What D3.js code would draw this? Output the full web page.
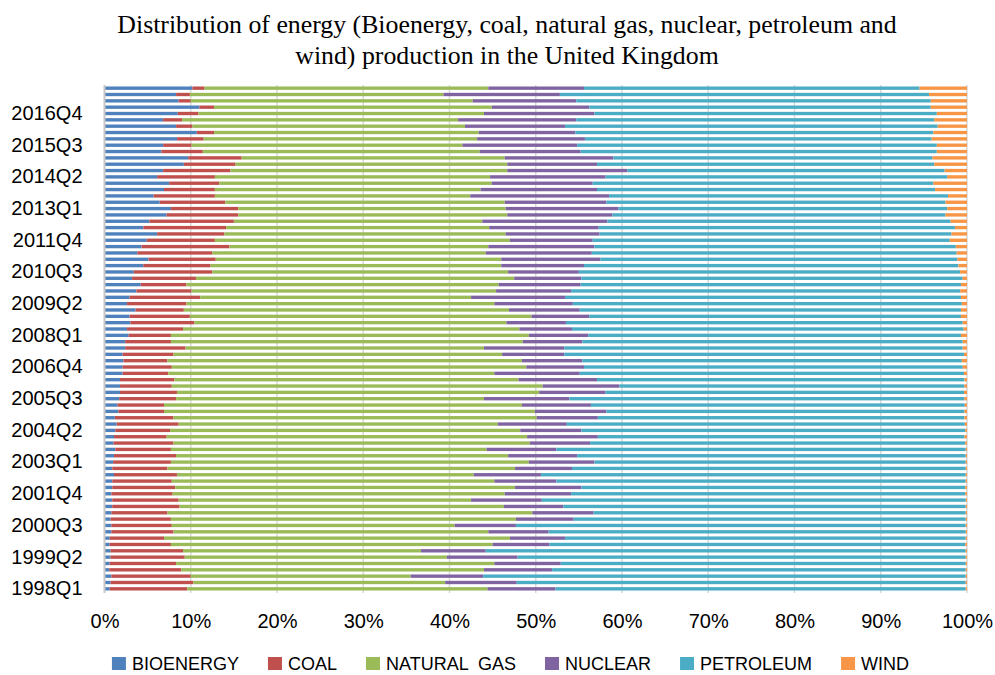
<!DOCTYPE html>
<html>
<head>
<meta charset="utf-8">
<script src="https://cdn.jsdelivr.net/npm/d3@7"></script>
<style>
  body { margin: 0; background: #fff; }
  svg { display: block; }
</style>
</head>
<body>
<script>
  var width = 995,
      height = 675;

  // quarters 1998Q1 .. 2017Q4
  var quarters = [];
  for (var yr = 1998; yr <= 2017; yr++) {
    for (var q = 1; q <= 4; q++) quarters.push(yr + "Q" + q);
  }

  var seriesNames = ["BIOENERGY", "COAL", "NATURAL  GAS", "NUCLEAR", "PETROLEUM", "WIND"];
  var seriesKeys = ["bio", "coal", "gas", "nuclear", "petroleum", "wind"];
  var colors = ["#4F81BD", "#C0504D", "#9BBB59", "#8064A2", "#4BACC6", "#F79646"];

  // shares in %, oldest quarter first
  var bio = [0.6, 0.7, 0.8, 0.55, 0.6, 0.7, 0.7, 0.6, 0.6, 0.8,
             0.8, 0.7, 0.8, 0.9, 0.9, 0.8, 0.9, 0.9, 1.1, 0.9,
             1.0, 1.1, 1.25, 1.05, 1.1, 1.25, 1.4, 1.2, 1.6, 1.5,
             1.7, 1.8, 1.8, 1.8, 2.1, 2.1, 2.2, 2.1, 2.4, 2.4,
             2.8, 2.6, 3.0, 2.9, 3.6, 2.6, 2.9, 3.7, 4.2, 3.2,
             3.4, 4.5, 5.1, 3.8, 4.3, 4.9, 6.1, 4.5, 5.2, 7.2,
             7.7, 6.4, 5.7, 6.9, 7.5, 6.1, 6.8, 9.2, 9.7, 6.6,
             6.8, 8.4, 10.7, 8.3, 6.8, 8.5, 11.0, 8.6, 8.3, 10.2];
  var coal = [9.0, 9.6, 9.2, 8.35, 7.7, 8.6, 8.4, 7.1, 6.3, 7.2,
              7.0, 7.0, 6.5, 7.8, 7.7, 7.1, 7.3, 6.9, 7.3, 6.4,
              6.7, 7.2, 6.45, 6.95, 6.1, 6.35, 7.2, 6.8, 5.3, 5.4,
              6.6, 6.6, 6.0, 6.3, 5.3, 5.7, 5.1, 5.9, 7.0, 5.3,
              4.9, 6.5, 7.4, 7.0, 5.6, 6.9, 8.2, 6.4, 5.3, 7.4,
              9.1, 7.8, 7.8, 8.7, 10.2, 7.9, 7.8, 9.6, 9.8, 8.3,
              7.8, 7.6, 7.1, 5.9, 5.8, 6.7, 7.8, 6.0, 6.2, 4.8,
              3.3, 3.1, 2.0, 1.9, 2.2, 2.4, 1.7, 1.4, 1.6, 1.4];
  var gas = [34.8, 29.2, 25.5, 35.1, 36.9, 30.4, 27.6, 37.3, 40.1, 36.5,
             32.8, 40.0, 42.3, 37.6, 33.9, 38.5, 39.4, 37.4, 34.4, 40.3,
             41.5, 38.5, 36.6, 41.3, 41.8, 40.6, 37.0, 42.1, 43.0, 41.5,
             35.7, 42.0, 43.0, 39.9, 37.8, 41.1, 41.1, 38.1, 34.6, 40.8,
             41.5, 39.0, 36.2, 39.6, 37.7, 35.7, 31.4, 35.3, 36.2, 36.9,
             34.3, 33.7, 33.1, 31.7, 30.0, 34.2, 32.6, 30.5, 28.8, 31.2,
             31.0, 32.4, 29.6, 30.8, 31.6, 31.9, 32.1, 31.5, 30.5, 32.1,
             31.4, 31.7, 30.7, 31.6, 32.0, 33.1, 32.2, 32.7, 29.4, 32.9];
  var nuclear = [7.9, 8.3, 8.4, 7.9, 7.7, 8.2, 7.5, 6.6, 6.4, 7.0,
                 7.1, 6.7, 7.1, 6.9, 8.2, 7.7, 7.7, 7.2, 7.8, 6.6,
                 7.6, 8.0, 8.1, 7.0, 8.2, 7.1, 8.0, 7.1, 8.3, 8.0,
                 9.9, 7.7, 8.9, 9.1, 9.9, 6.7, 7.0, 7.2, 9.3, 6.9,
                 6.9, 6.1, 6.9, 6.7, 8.2, 9.1, 10.9, 8.7, 9.5, 7.8,
                 8.2, 9.6, 11.5, 12.3, 12.3, 9.6, 10.9, 12.7, 14.5, 12.2,
                 13.1, 11.8, 16.1, 13.5, 11.7, 13.4, 13.9, 10.4, 12.6, 11.7,
                 13.3, 12.5, 11.2, 11.6, 13.7, 12.8, 11.3, 12.0, 13.5, 11.1];
  var petroleum = [47.55, 52.05, 55.95, 47.95, 46.95, 51.95, 55.65, 48.2, 46.45, 48.35,
                   52.15, 45.45, 43.15, 46.65, 49.15, 45.7, 44.5, 47.45, 49.25, 45.65,
                   43.05, 45.05, 47.45, 43.5, 42.5, 44.5, 46.15, 42.5, 41.5, 43.35,
                   45.8, 41.55, 40.0, 42.6, 44.55, 43.9, 44.0, 46.35, 46.2, 44.1,
                   43.2, 45.4, 46.0, 43.1, 44.2, 45.1, 45.9, 45.1, 44.1, 44.2,
                   44.2, 43.4, 41.4, 42.3, 41.9, 41.4, 40.8, 41.3, 39.8, 38.6,
                   38.1, 39.3, 39.3, 39.2, 39.5, 39.6, 36.8, 39.1, 37.0, 41.3,
                   41.7, 40.2, 41.5, 43.2, 41.5, 39.7, 39.6, 41.1, 42.8, 38.9];
  var wind = [0.15, 0.15, 0.15, 0.15, 0.15, 0.15, 0.15, 0.2, 0.15, 0.15,
              0.15, 0.15, 0.15, 0.15, 0.15, 0.2, 0.2, 0.15, 0.15, 0.15,
              0.15, 0.15, 0.15, 0.2, 0.3, 0.2, 0.25, 0.3, 0.3, 0.25,
              0.3, 0.35, 0.3, 0.3, 0.35, 0.5, 0.6, 0.35, 0.5, 0.5,
              0.7, 0.4, 0.5, 0.7, 0.7, 0.6, 0.7, 0.8, 0.7, 0.5,
              0.8, 1.0, 1.1, 1.2, 1.3, 2.0, 1.8, 1.4, 1.9, 2.5,
              2.3, 2.5, 2.2, 3.7, 3.9, 2.3, 2.6, 3.8, 4.0, 3.5,
              3.5, 4.1, 3.9, 3.4, 3.8, 3.5, 4.2, 4.2, 4.4, 5.5];

  var xTicks = [0, 0.1, 0.2, 0.3, 0.4, 0.5, 0.6, 0.7, 0.8, 0.9, 1];
  var titleLines = ["Distribution of energy (Bioenergy, coal, natural gas, nuclear, petroleum and",
                    "wind) production in the United Kingdom"];

  var table = quarters.map(function(d, i) {
    return {quarter: d, bio: bio[i], coal: coal[i], gas: gas[i],
            nuclear: nuclear[i], petroleum: petroleum[i], wind: wind[i]};
  });

  var stacked = d3.stack()
      .keys(seriesKeys)
      .offset(d3.stackOffsetExpand)(table);

  var margin = {left: 104.5, right: 28, top: 85, bottom: 83};

  var x = d3.scaleLinear()
      .domain([0, 1])
      .range([margin.left, width - margin.right]);

  var y = d3.scaleBand()
      .domain(quarters.slice().reverse())
      .range([margin.top, height - margin.bottom])
      .paddingInner(0.47)
      .paddingOuter(0.235);

  var svg = d3.select("body").append("svg")
      .attr("width", width)
      .attr("height", height);

  // title
  svg.append("g").selectAll("text")
      .data(titleLines)
      .enter().append("text")
      .attr("x", 507)
      .attr("y", function(d, i) { return 33 + i * 31; })
      .attr("text-anchor", "middle")
      .attr("font-family", "'Liberation Serif', 'Times New Roman', serif")
      .attr("font-size", 25.8)
      .attr("fill", "#000")
      .text(function(d) { return d; });

  // vertical gridlines
  svg.append("g").selectAll("line")
      .data(xTicks.slice(1))
      .enter().append("line")
      .attr("x1", function(d) { return x(d); })
      .attr("x2", function(d) { return x(d); })
      .attr("y1", margin.top)
      .attr("y2", height - margin.bottom + 1)
      .attr("stroke", "#d9d9d9")
      .attr("stroke-width", 1.5);

  // bars
  svg.append("g").selectAll("g")
      .data(stacked)
      .enter().append("g")
      .attr("fill", function(d, i) { return colors[i]; })
      .selectAll("rect")
      .data(function(d) { return d; })
      .enter().append("rect")
      .attr("x", function(d) { return x(d[0]); })
      .attr("width", function(d) { return Math.max(0, x(d[1]) - x(d[0])); })
      .attr("y", function(d) { return y(d.data.quarter); })
      .attr("height", y.bandwidth());

  // left axis line
  svg.append("line")
      .attr("x1", margin.left).attr("x2", margin.left)
      .attr("y1", margin.top).attr("y2", height - margin.bottom + 1)
      .attr("stroke", "#c8c8c8")
      .attr("stroke-width", 2);

  // y axis labels every 5th quarter
  var yAxis = d3.axisLeft(y)
      .tickValues(quarters.filter(function(d, i) { return i % 5 === 0; }))
      .tickSize(0)
      .tickPadding(22);

  var gy = svg.append("g")
      .attr("transform", "translate(" + margin.left + ",0)")
      .call(yAxis);
  gy.select(".domain").remove();
  gy.selectAll("text")
      .attr("font-family", "'Liberation Sans', Arial, sans-serif")
      .attr("font-size", 20)
      .attr("fill", "#000");

  // x axis labels
  var xAxis = d3.axisBottom(x)
      .tickValues(xTicks)
      .tickFormat(d3.format(".0%"))
      .tickSize(0)
      .tickPadding(22);

  var gx = svg.append("g")
      .attr("transform", "translate(0," + (height - margin.bottom) + ")")
      .call(xAxis);
  gx.select(".domain").remove();
  gx.selectAll("text")
      .attr("font-family", "'Liberation Sans', Arial, sans-serif")
      .attr("font-size", 20)
      .attr("fill", "#000");

  // legend
  var legend = svg.append("g");
  var lx = 0;
  seriesNames.forEach(function(name, i) {
    var item = legend.append("g").attr("transform", "translate(" + lx + ",0)");
    item.append("rect")
        .attr("x", 0).attr("y", -7)
        .attr("width", 14).attr("height", 13)
        .attr("fill", colors[i]);
    var t = item.append("text")
        .attr("x", 20).attr("y", 0)
        .attr("dy", "0.35em")
        .attr("font-family", "'Liberation Sans', Arial, sans-serif")
        .attr("font-size", 18)
        .attr("fill", "#000")
        .style("white-space", "pre")
        .attr("xml:space", "preserve")
        .text(name);
    lx += 20 + t.node().getComputedTextLength() + 29;
  });
  var legendWidth = lx - 29;
  legend.attr("transform", "translate(" + (510.5 - legendWidth / 2) + ",664)");
</script>
</body>
</html>
